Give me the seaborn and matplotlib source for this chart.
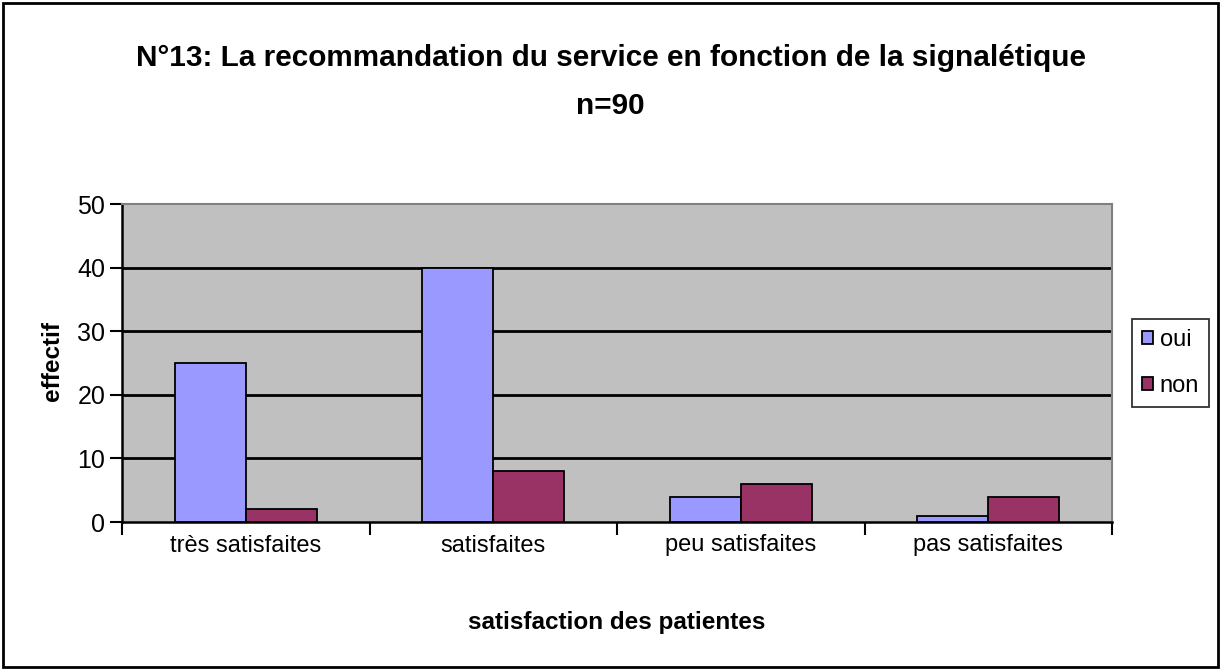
import matplotlib
matplotlib.use("Agg")
import matplotlib.pyplot as plt
import seaborn as sns
import pandas as pd
from matplotlib.patches import Rectangle
from matplotlib.ticker import FixedLocator

categories = ["très satisfaites", "satisfaites", "peu satisfaites", "pas satisfaites"]
oui = [25, 40, 4, 1]
non = [2, 8, 6, 4]
series_names = ["oui", "non"]
colors = ["#9999FF", "#993366"]
yticks = [0, 10, 20, 30, 40, 50]

df = pd.DataFrame({
    "cat": categories * 2,
    "val": oui + non,
    "serie": [series_names[0]] * 4 + [series_names[1]] * 4,
})

sns.set_style("white")
plt.rcParams["font.family"] = ["Liberation Sans", "DejaVu Sans"]
for k in ["text.color", "axes.labelcolor", "xtick.color", "ytick.color"]:
    plt.rcParams[k] = "black"

fig = plt.figure(figsize=(12.21, 6.70), dpi=100)
ax = fig.add_axes([122/1221, 1-522/670, (1112-122)/1221, (522-204)/670])
ax.set_facecolor("#C0C0C0")

sns.barplot(data=df, x="cat", y="val", hue="serie", order=categories,
            hue_order=series_names, palette=colors, saturation=1, width=0.575,
            edgecolor="black", linewidth=1.3, ax=ax, legend=True, zorder=3)

ax.set_xlim(-0.5, 3.5)
ax.set_ylim(0, 50)
ax.set_yticks(yticks)
ax.tick_params(axis="y", length=9, width=1.5, color="black", labelsize=18, direction="out", left=True, pad=3)
ax.tick_params(axis="x", which="major", length=0, labelsize=17, pad=9)
ax.xaxis.set_minor_locator(FixedLocator([-0.5, 0.5, 1.5, 2.5, 3.5]))
ax.tick_params(axis="x", which="minor", length=9, width=1.5, color="black", direction="out", bottom=True)
for y in yticks[1:-1]:
    ax.axhline(y, color="black", lw=2, zorder=1)

for s in ["left", "bottom"]:
    ax.spines[s].set_color("black")
    ax.spines[s].set_linewidth(1.8)
for s in ["top", "right"]:
    ax.spines[s].set_color("#808080")
    ax.spines[s].set_linewidth(1.5)

ax.set_xlabel("")
ax.set_ylabel("")
fig.text(617/1221, 1-622/670, "satisfaction des patientes", ha="center", va="center",
         fontsize=17.5, fontweight="bold")
fig.text(52/1221, 1-361/670, "effectif", ha="center", va="center", rotation=90,
         fontsize=17.5, fontweight="bold")

leg = ax.legend(loc="center left", bbox_to_anchor=(1.02, 0.5), fontsize=17, frameon=True,
                fancybox=False, edgecolor="black", handlelength=0.47, handleheight=0.47,
                handletextpad=0.3, labelspacing=1.0, borderpad=0.42, borderaxespad=0)
leg.get_frame().set_linewidth(1.3)

fig.text(0.5, 1-58/670, "N°13: La recommandation du service en fonction de la signalétique",
         ha="center", va="center", fontsize=21.4, fontweight="bold")
fig.text(0.5, 1-106/670, "n=90", ha="center", va="center", fontsize=21.4, fontweight="bold")

fig.add_artist(Rectangle((3/1221, 3/670), 1-6/1221, 1-6/670, transform=fig.transFigure,
                         fill=False, edgecolor="black", lw=2))

fig.savefig("out.png", dpi=100)
